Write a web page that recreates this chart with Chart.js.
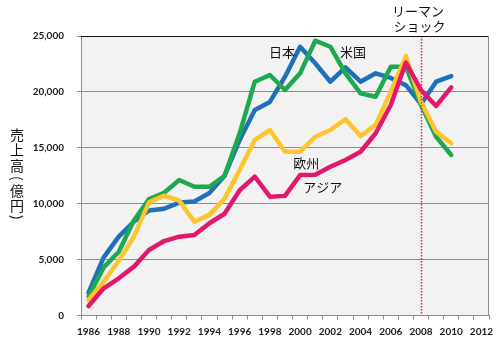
<!DOCTYPE html>
<html>
<head>
<meta charset="utf-8">
<script src="https://cdn.jsdelivr.net/npm/chart.js@4"></script>
<style>
  html, body { margin: 0; padding: 0; background: #fff; }
  #wrap { width: 500px; height: 340px; }
</style>
</head>
<body>
<div id="wrap"><canvas id="chart" width="500" height="340"></canvas></div>
<script>
// 1986 .. 2012, data runs to 2010
const years = ['1986', '1987', '1988', '1989', '1990', '1991', '1992', '1993', '1994',
  '1995', '1996', '1997', '1998', '1999', '2000', '2001', '2002', '2003', '2004',
  '2005', '2006', '2007', '2008', '2009', '2010', '2011', '2012'];

// 売上高 (億円)
const japan = [2040, 5200, 7050, 8400, 9400, 9550, 10100, 10200, 10950, 12500, 15700, 18380,
  19100, 21360, 24040, 22560, 20910, 22200, 20910, 21660, 21250, 20600, 18900, 20910, 21420];
const usa = [1700, 4300, 5700, 8500, 10420, 10980, 12120, 11520, 11520, 12500, 16300, 20910,
  21510, 20170, 21660, 24580, 24040, 21660, 19870, 19570, 22250, 22250, 18830, 15990, 14360];
const europe = [1390, 3020, 4900, 7050, 10120, 10720, 10270, 8400, 9000, 10450, 13010, 15700,
  16590, 14650, 14650, 15990, 16590, 17550, 16050, 17040, 20020, 23210, 19120, 16440, 15400];
const asia = [850, 2430, 3330, 4370, 5860, 6660, 7050, 7200, 8250, 9100, 11200, 12420,
  10630, 10700, 12570, 12600, 13300, 13910, 14650, 16300, 18830, 22620, 20170, 18740, 20410];

const shockYear = '2008';

// text labels anchored in data units: [text, category index, value]
const seriesLabels = [
  ['日本', 12.8, 23550],
  ['米国', 17.5, 23550],
  ['欧州', 14.4, 13650],
  ['アジア', 15.5, 11500]
];
const shockLabel = [['リーマン', 21.8, 27250], ['ショック', 21.9, 25900]];

// vertical title: [char, advance, rotated]
const yTitle = [['売', 15, false], ['上', 15.5, false], ['高', 13, false], ['(', 12.5, true],
  ['億', 14.5, false], ['円', 12, false], [')', 0, true]];

const cjk = '"Noto Sans CJK JP", "Noto Sans", sans-serif';
const tickFont = { family: 'Lato, "Liberation Sans", sans-serif', size: 10, weight: 'bold' };

const series = (label, data, color, order) => ({
  label, data,
  borderColor: color,
  backgroundColor: color,
  borderWidth: 4.5,
  pointRadius: 0,
  tension: 0,
  borderJoinStyle: 'round',
  borderCapStyle: 'round',
  order
});

const framePlugin = {
  id: 'frame',
  beforeDraw(chart) {
    const { ctx, chartArea: a } = chart;
    ctx.save();
    ctx.fillStyle = '#f2f2f2';
    ctx.fillRect(a.left, a.top, a.right - a.left, a.bottom - a.top);
    ctx.restore();
  },
  afterDatasetsDraw(chart) {
    const { ctx, chartArea: a, scales: { x } } = chart;
    const px = Math.round(x.getPixelForValue(years.indexOf(shockYear))) + 0.5;
    ctx.save();
    ctx.strokeStyle = '#d8303a';
    ctx.lineWidth = 1.5;
    ctx.setLineDash([1.5, 1.5]);
    ctx.beginPath();
    ctx.moveTo(px, a.top);
    ctx.lineTo(px, a.bottom);
    ctx.stroke();
    ctx.restore();
  },
  afterDraw(chart) {
    const { ctx, chartArea: a, scales: { x, y } } = chart;
    ctx.save();
    // top and right border
    ctx.lineWidth = 1;
    ctx.strokeStyle = '#111';
    ctx.beginPath();
    ctx.moveTo(a.left, a.top + 0.5);
    ctx.lineTo(a.right, a.top + 0.5);
    ctx.stroke();
    ctx.strokeStyle = '#8c8c8c';
    ctx.beginPath();
    ctx.moveTo(a.right - 0.5, a.top);
    ctx.lineTo(a.right - 0.5, a.bottom);
    ctx.stroke();

    ctx.fillStyle = '#111';
    ctx.textAlign = 'center';
    ctx.textBaseline = 'middle';
    ctx.font = '13px ' + cjk;
    seriesLabels.concat(shockLabel).forEach(([t, i, v]) => {
      ctx.fillText(t, x.getPixelForValue(i), y.getPixelForValue(v));
    });

    // vertical axis title, brackets turned a quarter
    ctx.font = '14px ' + cjk;
    let ty = (a.top + a.bottom) / 2 - 41;
    yTitle.forEach(([ch, adv, rot]) => {
      if (rot) {
        ctx.save();
        ctx.translate(17, ty);
        ctx.rotate(Math.PI / 2);
        ctx.fillText(ch, 0, 0);
        ctx.restore();
      } else {
        ctx.fillText(ch, 17, ty);
      }
      ty += adv;
    });
    ctx.restore();
  }
};

new Chart(document.getElementById('chart'), {
  type: 'line',
  data: {
    labels: years,
    datasets: [
      series('日本', japan, '#1f70b6', 4),
      series('米国', usa, '#1ea84f', 3),
      series('欧州', europe, '#fcc52e', 2),
      series('アジア', asia, '#e3186d', 1)
    ]
  },
  options: {
    responsive: false,
    animation: false,
    layout: { padding: { top: 36, right: 11, left: 0, bottom: 0 } },
    plugins: {
      legend: { display: false },
      tooltip: { enabled: false }
    },
    scales: {
      x: {
        offset: true,
        afterFit: s => { s.height = 24.5; },
        border: { color: '#8c8c8c' },
        grid: { offset: true, drawOnChartArea: false, drawTicks: true, tickLength: 4, color: '#8c8c8c' },
        ticks: {
          autoSkip: false,
          maxRotation: 0,
          padding: 6,
          color: '#1a1a1a',
          font: tickFont,
          callback: (v, i) => (i % 2 === 0 ? years[i] : '')
        }
      },
      y: {
        min: 0,
        max: 25000,
        afterFit: s => { s.width = 81; },
        border: { color: '#8c8c8c' },
        grid: { color: '#8c8c8c', tickLength: 4 },
        ticks: {
          stepSize: 5000,
          padding: 13,
          color: '#1a1a1a',
          font: tickFont,
          callback: v => v.toLocaleString('en-US')
        }
      }
    }
  },
  plugins: [framePlugin]
});
</script>
</body>
</html>
